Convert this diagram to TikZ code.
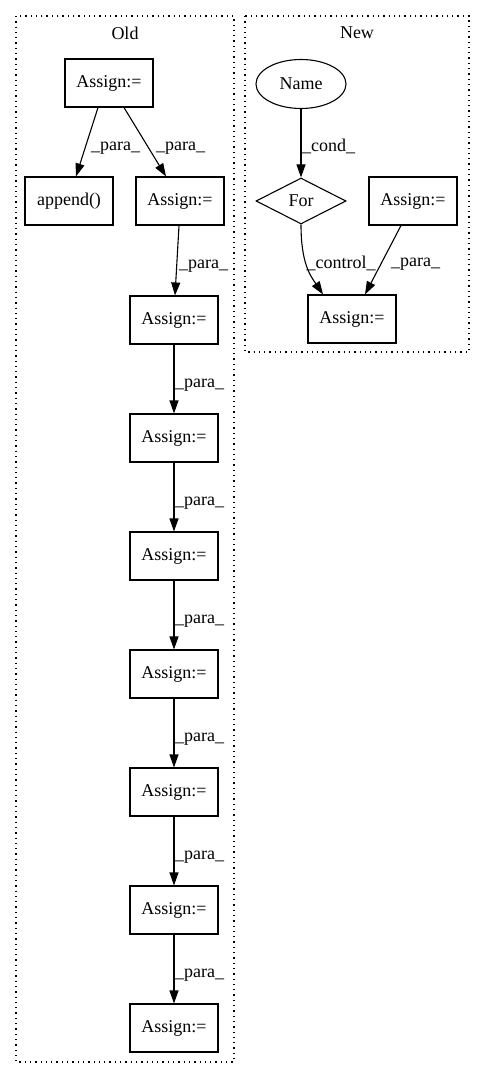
\documentclass[tikz,border=0pt]{standalone}
\usepackage{fontspec}
\setmainfont{Liberation Serif}
\usetikzlibrary{arrows.meta,shapes.geometric}
\begin{document}
\begin{tikzpicture}[x=1pt,y=-1pt,
  every node/.style={font=\fontsize{18pt}{20pt}\selectfont},
  box/.style={draw,line width=1.1pt,rectangle,minimum width=88pt,minimum height=48pt,inner sep=0pt},
  ell/.style={draw,line width=1.1pt,ellipse,minimum width=90pt,minimum height=49pt,inner sep=0pt},
  dia/.style={draw,line width=1.1pt,diamond,minimum width=90pt,minimum height=46pt,inner sep=0pt},
  edge/.style={line width=1.1pt,-{Triangle[length=13pt,width=9pt]}},
  lbl/.style={anchor=west,inner sep=0.5pt},
  cluster/.style={dotted,line width=1.2pt,dash pattern=on 1.3pt off 4pt}]
\useasboundingbox (0,0) rectangle (484,1078);
% clusters
\draw[cluster] (16,16) rectangle (234,1062);
\draw[cluster] (245,16) rectangle (469,352);
\node (told) at (125,33) {Old};
\node (tnew) at (357,33) {New};
% Old
\node[box] (o1) at (109,83) {Assign:=};
\node[box] (app) at (69,201) {append()};
\node[box] (o2) at (180,201) {Assign:=};
\node[box] (o3) at (174,320) {Assign:=};
\node[box] (o4) at (174,438) {Assign:=};
\node[box] (o5) at (174,556) {Assign:=};
\node[box] (o6) at (174,674) {Assign:=};
\node[box] (o7) at (174,792) {Assign:=};
\node[box] (o8) at (174,910) {Assign:=};
\node[box] (o9) at (174,1028) {Assign:=};
\draw[edge] ([xshift=-11pt]o1.south) -- node[lbl,pos=0.5,xshift=3pt,yshift=-6pt] {\_para\_} ([xshift=7pt]app.north);
\draw[edge] ([xshift=15pt]o1.south) -- node[lbl,pos=0.5,xshift=10pt,yshift=-6pt] {\_para\_} ([xshift=-14pt]o2.north);
\draw[edge] ([xshift=-1pt]o2.south) -- node[lbl,pos=0.5,xshift=1pt,yshift=-6pt] {\_para\_} ([xshift=1pt]o3.north);
\draw[edge] (o3) -- node[lbl,pos=0.5,yshift=-6pt] {\_para\_} (o4);
\draw[edge] (o4) -- node[lbl,pos=0.5,yshift=-6pt] {\_para\_} (o5);
\draw[edge] (o5) -- node[lbl,pos=0.5,yshift=-6pt] {\_para\_} (o6);
\draw[edge] (o6) -- node[lbl,pos=0.5,yshift=-6pt] {\_para\_} (o7);
\draw[edge] (o7) -- node[lbl,pos=0.5,yshift=-6pt] {\_para\_} (o8);
\draw[edge] (o8) -- node[lbl,pos=0.5,yshift=-6pt] {\_para\_} (o9);
% New
\node[ell] (name) at (301,84) {Name};
\node[dia] (for) at (301,201) {For};
\node[box] (nr) at (413,201) {Assign:=};
\node[box] (nb) at (352,319) {Assign:=};
\draw[edge] (name) -- node[lbl,pos=0.5,yshift=-3pt] {\_cond\_} (for);
\draw[edge] (for.south) .. controls +(0,40) and +(-12,-18) .. node[lbl,pos=0.5,xshift=-2pt,yshift=4pt] {\_control\_} ([xshift=-29pt]nb.north);
\draw[edge] ([xshift=-12pt]nr.south) -- node[lbl,pos=0.5,xshift=7pt,yshift=-4pt] {\_para\_} ([xshift=13pt]nb.north);
\end{tikzpicture}
\end{document}
